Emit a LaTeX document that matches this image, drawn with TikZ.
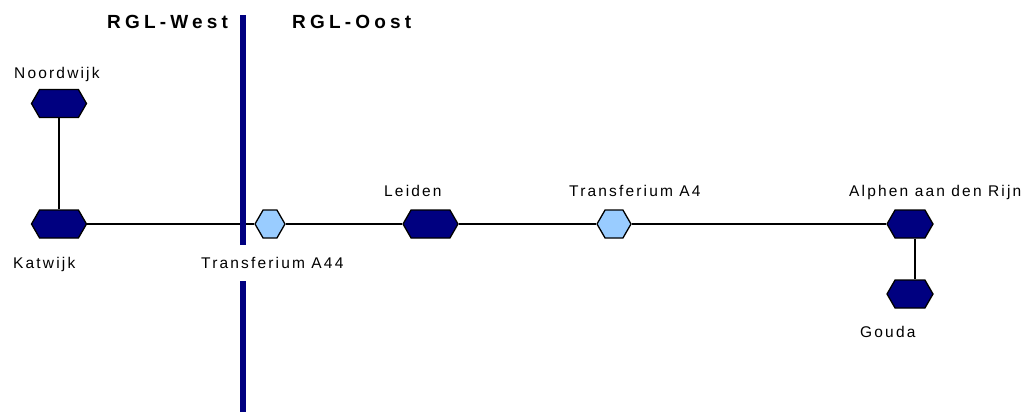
\documentclass[tikz,border=0pt]{standalone}
\usepackage{fontspec}
\setmainfont{Liberation Sans}
\newfontfamily\haltefont[LetterSpace=14]{Liberation Sans}
\newfontfamily\zonefont[LetterSpace=22]{Liberation Sans}
\usetikzlibrary{shapes.symbols}
\definecolor{halteblauw}{HTML}{000080}
\definecolor{transferblauw}{HTML}{99CCFF}

\begin{document}
\begin{tikzpicture}[x=1pt, y=-1pt,
  halte/.style = {shape=signal, signal to=east and west, signal pointer angle=120,
    draw=black, line width=1.3pt, fill=halteblauw, minimum height=28pt, inner sep=0pt},
  transfer/.style = {halte, fill=transferblauw},
  naam/.style = {anchor=base west, inner sep=0pt, font=\haltefont\fontsize{15.5}{18}\selectfont},
  zone/.style = {anchor=base west, inner sep=0pt, font=\zonefont\bfseries\fontsize{19}{22}\selectfont},
  lijn/.style = {line width=1.3pt}]
\useasboundingbox (0,0) rectangle (1034,416);
% haltes
\path (59,103.5) node[halte, minimum width=55pt] (noordwijk) {};
\path (59,224) node[halte, minimum width=55pt] (katwijk) {};
\path (270,224) node[transfer, minimum width=30pt] (a44) {};
\path (430.5,224) node[halte, minimum width=55pt] (leiden) {};
\path (614,224) node[transfer, minimum width=34pt] (a4) {};
\path (910,224) node[halte, minimum width=46pt] (alphen) {};
\path (910,294) node[halte, minimum width=46pt] (gouda) {};
% namen
\path (14,78) node[naam] (noordwijk naam) {Noordwijk};
\path (13,268) node[naam] (katwijk naam) {Katwijk};
\path (201,268) node[naam] (a44 naam) {Transferium A44};
\path (384,196) node[naam] (leiden naam) {Leiden};
\path (569,196) node[naam] (a4 naam) {Transferium A4};
\path (849,196) node[naam] (alphen naam) {Alphen aan den Rijn};
\path (860,337) node[naam] (gouda naam) {Gouda};
% verbindingen
\draw[lijn] (noordwijk) -- (katwijk);
\draw[lijn] (katwijk) -- (a44) -- (leiden) -- (a4) -- (alphen);
\draw[lijn] ([xshift=5pt]alphen.south) -- ([xshift=5pt]gouda.north);
% grens
\path (107,28) node[zone] (west) {RGL-West};
\path (292,28) node[zone] (oost) {RGL-Oost};
\coordinate (grens1) at (243,15);
\coordinate (grens2) at (243,245);
\coordinate (grens3) at (243,281);
\coordinate (grens4) at (243,412);
\draw[halteblauw, line width=6pt] (grens1) -- (grens2) (grens3) -- (grens4);
\end{tikzpicture}
\end{document}
